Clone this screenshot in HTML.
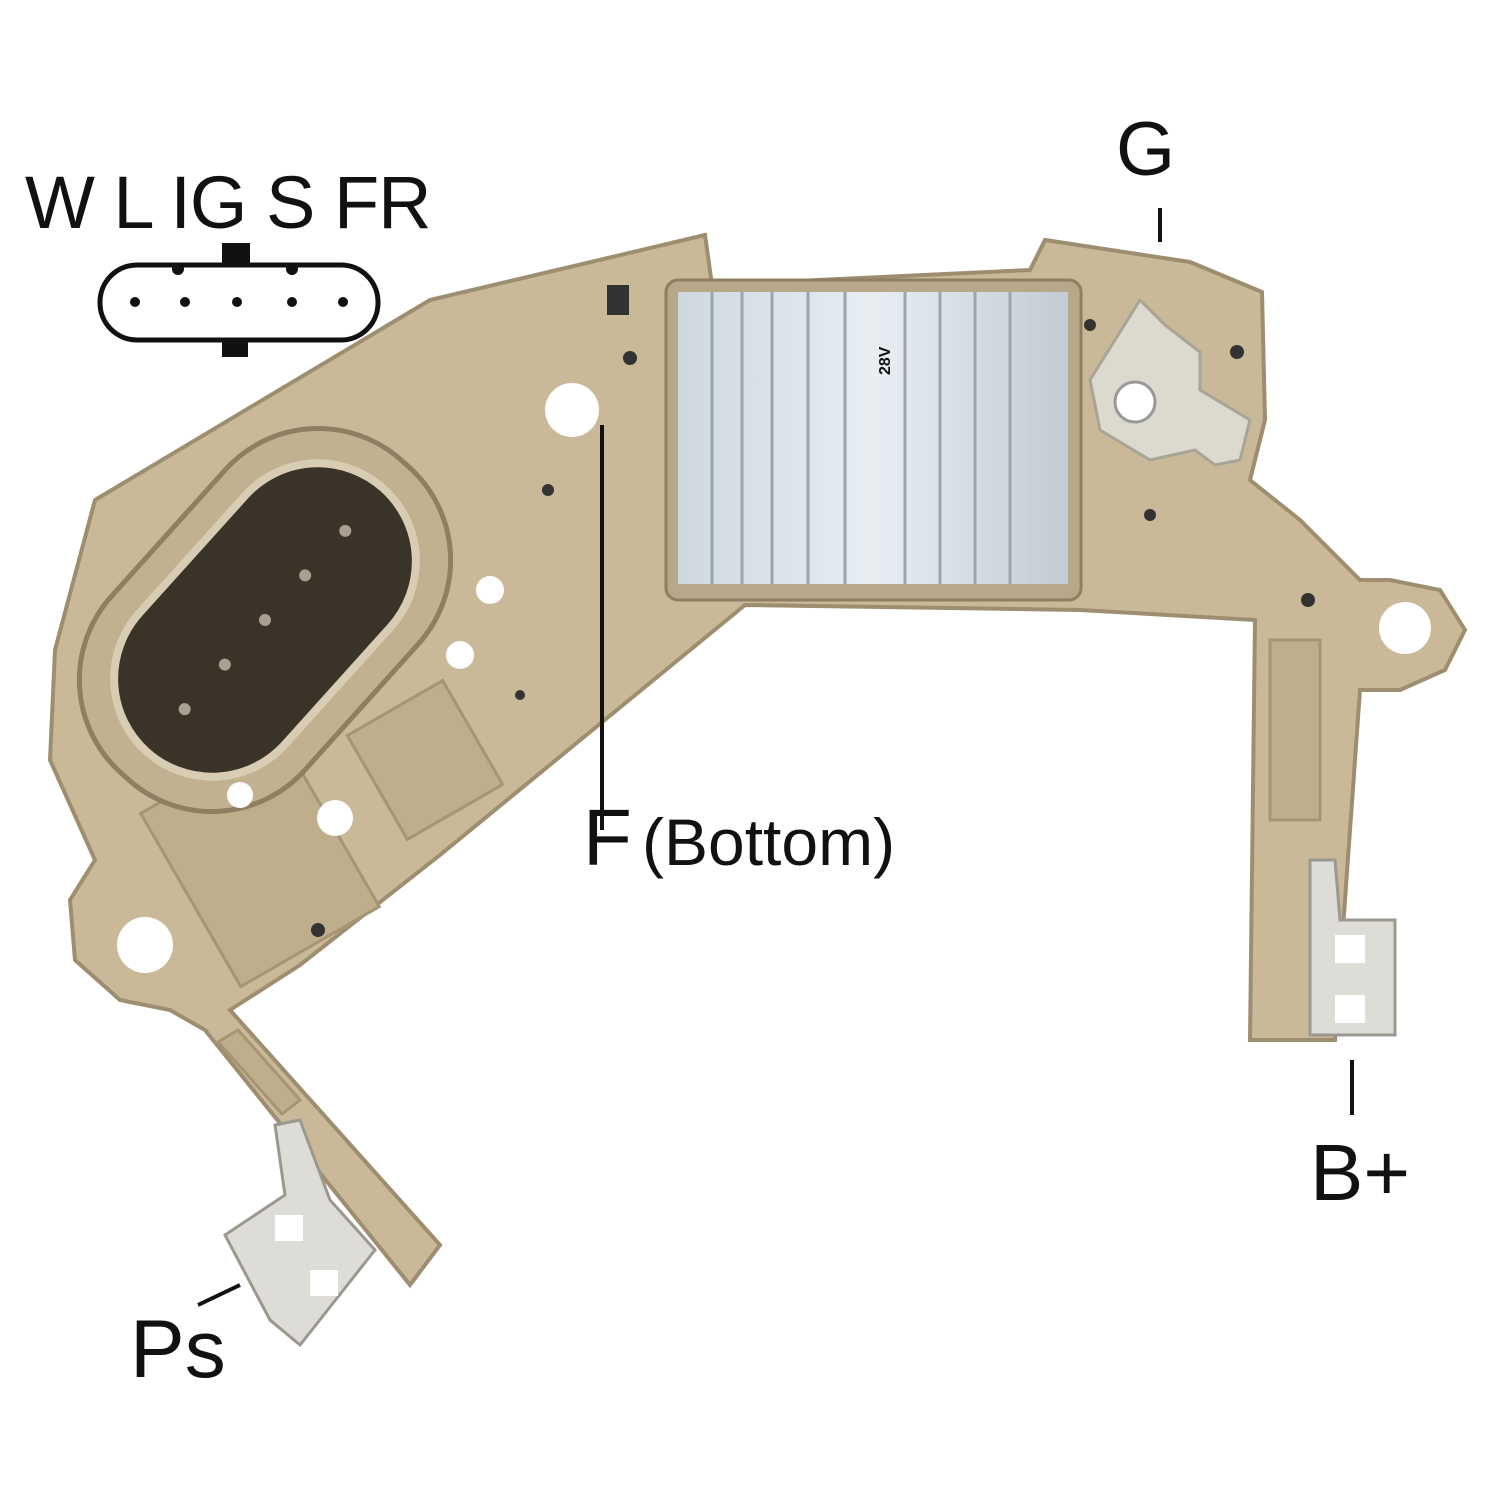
<!DOCTYPE html>
<html><head><meta charset="utf-8"><style>
html,body{margin:0;padding:0;background:#fff;width:1500px;height:1500px;overflow:hidden}
svg{display:block}
text{font-family:"Liberation Sans",sans-serif;fill:#111}
</style></head><body>
<svg width="1500" height="1500" viewBox="0 0 1500 1500" xmlns="http://www.w3.org/2000/svg">
<defs>
<linearGradient id="hs" x1="0" x2="1">
<stop offset="0" stop-color="#cfd8df"/><stop offset="0.5" stop-color="#e8eef2"/><stop offset="1" stop-color="#c3ccd3"/>
</linearGradient>
</defs>
<g fill="#c9b998" stroke="#9e8e70" stroke-width="4">
<path d="M95,500 L430,300 L705,235 L712,285 L1030,270 L1045,240 L1190,262 L1262,292 L1265,420 L1250,480 L1300,520 L1360,580 L1390,580 L1440,590 L1465,630 L1445,670 L1400,690 L1360,690 L1335,1040 L1250,1040 L1255,620 L1080,610 L745,605 L440,855 L300,965 L230,1010 L440,1245 L410,1285 L205,1030 L170,1010 L120,1000 L75,960 L70,900 L95,860 L50,760 L55,650 Z"/>
</g>
<circle cx="145" cy="945" r="28" fill="#fff"/>
<circle cx="1405" cy="628" r="26" fill="#fff"/>
<g fill="#bfae8b" stroke="#a69574" stroke-width="3">
<rect x="180" y="760" width="160" height="200" transform="rotate(-30 260 860)"/>
<rect x="370" y="700" width="110" height="120" transform="rotate(-30 425 760)"/>
<rect x="1270" y="640" width="50" height="180"/>
<polygon points="218,1042 238,1030 300,1100 282,1114"/>
</g>
<g transform="rotate(-48 265 620)">
<rect x="55" y="490" width="420" height="260" rx="125" fill="#c2b190" stroke="#8f7f62" stroke-width="5"/>
<rect x="88" y="522" width="354" height="196" rx="98" fill="#3a3328" stroke="#d8ccb2" stroke-width="8"/>
<g fill="#a9a090"><circle cx="145" cy="620" r="6"/><circle cx="205" cy="620" r="6"/><circle cx="265" cy="620" r="6"/><circle cx="325" cy="620" r="6"/><circle cx="385" cy="620" r="6"/></g>
</g>
<g fill="#fff"><circle cx="572" cy="410" r="27"/><circle cx="490" cy="590" r="14"/><circle cx="460" cy="655" r="14"/><circle cx="240" cy="795" r="13"/><circle cx="335" cy="818" r="18"/><circle cx="1120" cy="400" r="18"/></g>
<g fill="#333"><circle cx="630" cy="358" r="7"/><circle cx="548" cy="490" r="6"/><circle cx="1308" cy="600" r="7"/><circle cx="1090" cy="325" r="6"/><circle cx="1237" cy="352" r="7"/><circle cx="1150" cy="515" r="6"/><circle cx="520" cy="695" r="5"/><circle cx="318" cy="930" r="7"/></g>
<path d="M1140,300 L1165,325 L1200,352 L1200,390 L1250,420 L1240,460 L1215,465 L1195,450 L1150,460 L1100,430 L1090,380 Z" fill="#dcd9cf" stroke="#a8a597" stroke-width="3"/>
<circle cx="1135" cy="402" r="20" fill="#fff" stroke="#999" stroke-width="3"/>
<rect x="666" y="280" width="415" height="320" rx="12" fill="#b6a888" stroke="#8f7f62" stroke-width="3"/>
<rect x="678" y="292" width="390" height="292" fill="url(#hs)"/>
<g stroke="#9aa6ae" stroke-width="3">
<line x1="712" y1="292" x2="712" y2="584"/><line x1="742" y1="292" x2="742" y2="584"/><line x1="772" y1="292" x2="772" y2="584"/><line x1="808" y1="292" x2="808" y2="584"/><line x1="845" y1="292" x2="845" y2="584"/><line x1="905" y1="292" x2="905" y2="584"/><line x1="940" y1="292" x2="940" y2="584"/><line x1="975" y1="292" x2="975" y2="584"/><line x1="1010" y1="292" x2="1010" y2="584"/>
</g>
<text x="890" y="375" font-size="16" font-weight="bold" transform="rotate(-90 890 375)">28V</text>
<rect x="607" y="285" width="22" height="30" fill="#333"/>
<g fill="#dedcd6" stroke="#9b9890" stroke-width="3">
<path d="M1310,860 L1335,860 L1340,920 L1395,920 L1395,1035 L1310,1035 Z"/>
<path d="M225,1235 L285,1195 L275,1125 L300,1120 L330,1200 L375,1250 L300,1345 L270,1320 Z"/>
</g>
<g fill="#fff"><rect x="1335" y="935" width="30" height="28"/><rect x="1335" y="995" width="30" height="28"/><rect x="275" y="1215" width="28" height="26"/><rect x="310" y="1270" width="28" height="26"/></g>
<text x="25" y="228" font-size="74" letter-spacing="-1">W L IG S FR</text>
<rect x="100" y="265" width="278" height="75" rx="37" fill="none" stroke="#111" stroke-width="5"/>
<g fill="#111"><circle cx="135" cy="302" r="5"/><circle cx="185" cy="302" r="5"/><circle cx="237" cy="302" r="5"/><circle cx="292" cy="302" r="5"/><circle cx="343" cy="302" r="5"/><circle cx="178" cy="269" r="6"/><circle cx="292" cy="269" r="6"/>
<rect x="222" y="243" width="28" height="24"/><rect x="222" y="338" width="26" height="19"/></g>
<text x="1116" y="175" font-size="76">G</text>
<line x1="1160" y1="208" x2="1160" y2="242" stroke="#111" stroke-width="4"/>
<line x1="602" y1="425" x2="602" y2="830" stroke="#111" stroke-width="4"/>
<text x="583" y="865" font-size="80">F</text>
<text x="642" y="865" font-size="66">(Bottom)</text>
<line x1="1352" y1="1060" x2="1352" y2="1115" stroke="#111" stroke-width="4"/>
<text x="1310" y="1200" font-size="80">B+</text>
<line x1="198" y1="1305" x2="240" y2="1285" stroke="#111" stroke-width="4"/>
<text x="130" y="1377" font-size="82">Ps</text>
</svg>
</body></html>
